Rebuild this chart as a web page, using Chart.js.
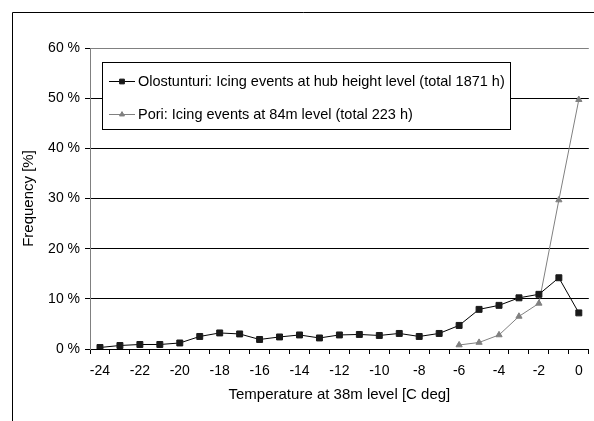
<!DOCTYPE html>
<html>
<head>
<meta charset="utf-8">
<script src="https://cdn.jsdelivr.net/npm/chart.js@4.4.1/dist/chart.umd.min.js"></script>
<style>
  body { margin: 0; background: #fff; }
  canvas { display: block; }
</style>
</head>
<body>
<canvas id="myChart" width="594" height="421" style="width:594px;height:421px"></canvas>
<script>
// temperature bins (C deg)
const temps = [-24, -23, -22, -21, -20, -19, -18, -17, -16, -15, -14, -13, -12,
               -11, -10, -9, -8, -7, -6, -5, -4, -3, -2, -1, 0];
// shown x tick labels
const tickLabels = ['-24', '-22', '-20', '-18', '-16', '-14', '-12', '-10', '-8', '-6', '-4', '-2', '0'];

const oloLabel = 'Olostunturi: Icing events at hub height level (total 1871 h)';
const oloValues = [0.3, 0.7, 0.9, 0.9, 1.2, 2.5, 3.2, 3.0, 1.9, 2.4, 2.8, 2.2, 2.8,
                   2.9, 2.7, 3.1, 2.5, 3.1, 4.7, 7.9, 8.7, 10.2, 10.9, 14.2, 7.2];

const poriLabel = 'Pori: Icing events at 84m level (total 223 h)';
const poriValues = [null, null, null, null, null, null, null, null, null, null, null, null, null,
                    null, null, null, null, null, 0.8, 1.3, 2.8, 6.5, 9.1, 29.7, 49.7];

const fontFamily = "'Liberation Sans', Arial, sans-serif";
Chart.defaults.font.family = fontFamily;
Chart.defaults.font.size = 14;
Chart.defaults.color = '#000';

// outer frame of the picture
const frame = {
    id: 'frame',
    beforeDraw(chart) {
        const ctx = chart.ctx;
        ctx.save();
        ctx.strokeStyle = '#000';
        ctx.lineWidth = 1;
        ctx.beginPath();
        ctx.moveTo(12.5, chart.height);
        ctx.lineTo(12.5, 12.5);
        ctx.lineTo(chart.width, 12.5);
        ctx.stroke();
        ctx.restore();
    }
};

// boxed legend inside the plot
const boxLegend = {
    id: 'boxLegend',
    beforeDatasetsDraw(chart) {
        const ctx = chart.ctx;
        ctx.save();
        ctx.fillStyle = '#fff';
        ctx.fillRect(102.5, 62.5, 408, 67);
        ctx.strokeStyle = '#000';
        ctx.lineWidth = 1;
        ctx.strokeRect(102.5, 62.5, 408, 67);
        chart.data.datasets.forEach(function(ds, i) {
            const y = 81 + i * 33;
            ctx.strokeStyle = ds.borderColor;
            ctx.lineWidth = 1;
            ctx.beginPath();
            ctx.moveTo(109, y + 0.5);
            ctx.lineTo(135, y + 0.5);
            ctx.stroke();
            ctx.fillStyle = ds.pointBackgroundColor;
            ctx.strokeStyle = ds.pointBorderColor;
            Chart.helpers.drawPoint(ctx, {pointStyle: ds.pointStyle, radius: ds.pointRadius * 0.8, borderWidth: 1}, 122, y + 0.5);
            ctx.fillStyle = '#000';
            ctx.font = '14.5px ' + fontFamily;
            ctx.textBaseline = 'middle';
            ctx.fillText(ds.label, 138, y + 1);
        });
        ctx.restore();
    }
};

const ctx = document.getElementById('myChart').getContext('2d');
const myChart = new Chart(ctx, {
    type: 'line',
    data: {
        labels: temps,
        datasets: [{
            label: oloLabel,
            data: oloValues,
            borderColor: '#000',
            borderWidth: 1,
            pointStyle: 'rect',
            pointRadius: 4.2,
            pointBackgroundColor: '#1a1a1a',
            pointBorderColor: '#1a1a1a',
            pointBorderWidth: 1
        }, {
            label: poriLabel,
            data: poriValues,
            borderColor: '#808080',
            borderWidth: 1,
            pointStyle: 'triangle',
            pointRadius: 3.6,
            pointBackgroundColor: '#808080',
            pointBorderColor: '#808080',
            pointBorderWidth: 1
        }]
    },
    options: {
        responsive: false,
        animation: false,
        devicePixelRatio: 1,
        layout: { padding: { top: 48, right: 0, bottom: 0, left: 0 } },
        plugins: {
            legend: { display: false },
            tooltip: { enabled: false }
        },
        scales: {
            x: {
                offset: true,
                grid: { offset: true, drawOnChartArea: false, tickLength: 5, tickColor: '#000' },
                border: { color: '#000' },
                ticks: {
                    autoSkip: false,
                    maxRotation: 0,
                    padding: 9,
                    callback: function(value, index) {
                        const t = String(temps[index]);
                        return tickLabels.includes(t) ? t : '';
                    }
                },
                title: {
                    display: true,
                    text: 'Temperature at 38m level [C deg]',
                    font: { size: 15 },
                    padding: { top: 0, bottom: 17 }
                },
                afterFit: function(scale) { scale.height = 72; }
            },
            y: {
                min: 0,
                max: 60,
                ticks: {
                    stepSize: 10,
                    padding: 5,
                    callback: function(v) { return v + ' %'; }
                },
                grid: {
                    color: function(c) { return c.tick && c.tick.value === 60 ? '#808080' : '#000'; },
                    tickColor: '#000',
                    tickLength: 5
                },
                border: { color: '#808080' },
                title: {
                    display: true,
                    text: 'Frequency [%]',
                    font: { size: 15 },
                    padding: { top: 20, bottom: 0 }
                },
                afterFit: function(scale) { scale.width = 90; }
            }
        }
    },
    plugins: [frame, boxLegend]
});
</script>
</body>
</html>
